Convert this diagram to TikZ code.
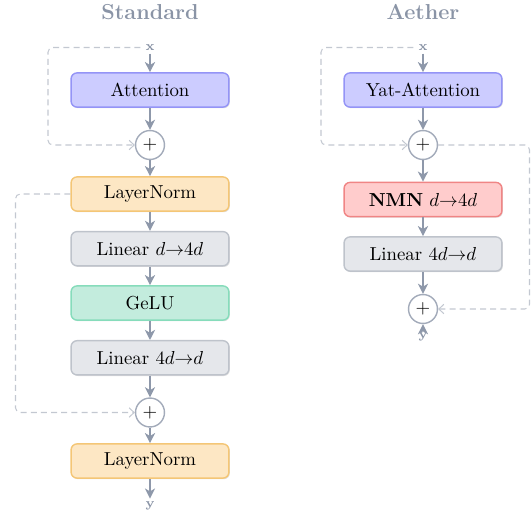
\documentclass[tikz,border=0pt]{standalone}
\usetikzlibrary{arrows.meta,shadows}
\definecolor{attfill}{HTML}{CCCCFF}
\definecolor{attdraw}{HTML}{9494F6}
\definecolor{lnfill}{HTML}{FDE7C4}
\definecolor{lndraw}{HTML}{F4C676}
\definecolor{linfill}{HTML}{E5E7EB}
\definecolor{lindraw}{HTML}{BEC3CB}
\definecolor{gelufill}{HTML}{C3ECDD}
\definecolor{geludraw}{HTML}{86DCBB}
\definecolor{nmnfill}{HTML}{FFCCCC}
\definecolor{nmndraw}{HTML}{F08585}
\definecolor{arrcol}{HTML}{8E98AA}
\definecolor{skipcol}{HTML}{C3C8D1}
\definecolor{titlecol}{HTML}{8A94A6}
\definecolor{pluscol}{HTML}{A3ABBA}
\begin{document}
\begin{tikzpicture}[x=0.532pt,y=-0.532pt,
  blk/.style={rounded corners=3.2pt, minimum width=84pt, minimum height=18.2pt,
    line width=0.75pt, inner sep=0pt, font=\normalsize,
    drop shadow={shadow xshift=0.5pt, shadow yshift=-0.6pt, opacity=0.12, fill=black}},
  attn/.style={blk, fill=attfill, draw=attdraw},
  lnorm/.style={blk, fill=lnfill, draw=lndraw},
  linb/.style={blk, fill=linfill, draw=lindraw},
  gelub/.style={blk, fill=gelufill, draw=geludraw},
  nmnb/.style={blk, fill=nmnfill, draw=nmndraw},
  plusn/.style={circle, draw=pluscol, fill=white, line width=0.75pt,
    minimum size=15.4pt, inner sep=0pt},
  io/.style={font=\scriptsize\bfseries, text=titlecol, inner xsep=2.5pt, inner ysep=1.5pt},
  ttl/.style={font=\fontsize{11.5}{14}\selectfont\bfseries, text=titlecol},
  arr/.style={draw=arrcol, line width=0.8pt, -{Stealth[length=5.4pt,width=5.4pt,inset=1.6pt]}},
  skip/.style={draw=skipcol, line width=0.55pt, dash pattern=on 3.2pt off 2.2pt,
    rounded corners=2.5pt, -{Straight Barb[length=2.6pt,width=5pt]}}
]
\useasboundingbox (0,0) rectangle (531,522);

% ---------- Standard ----------
\node[ttl] (t1) at (150,12) {Standard};
\node[io] (x1) at (150,47.5) {x};
\node[attn] (att1) at (150,90) {Attention};
\node[plusn] (p1) at (150,145) {$+$};
\node[lnorm] (ln1) at (150,194) {LayerNorm};
\node[linb] (lin1) at (150,248.7) {Linear $d{\to}4d$};
\node[gelub] (gelu) at (150,303) {GeLU};
\node[linb] (lin2) at (150,357.8) {Linear $4d{\to}d$};
\node[plusn] (p2) at (150,412.5) {$+$};
\node[lnorm] (ln2) at (150,461) {LayerNorm};
\node[io] (y1) at (150,506) {y};

\coordinate (railA) at (48,0);
\coordinate (railB) at (15.5,0);

\draw[arr] (x1) -- (att1);
\draw[arr] (att1) -- (p1);
\draw[arr] (p1) -- (ln1);
\draw[arr] (ln1) -- (lin1);
\draw[arr] (lin1) -- (gelu);
\draw[arr] (gelu) -- (lin2);
\draw[arr] (lin2) -- (p2);
\draw[arr] (p2) -- (ln2);
\draw[arr] (ln2) -- (y1);

\draw[skip] (x1.west) -| (railA |- p1.west) -- (p1.west);
\draw[skip] (ln1.west) -| (railB |- p2.west) -- (p2.west);

% ---------- Aether ----------
\node[ttl] (t2) at (423,12) {Aether};
\node[io] (x2) at (423,47.5) {x};
\node[attn] (att2) at (423,90) {Yat-Attention};
\node[plusn] (q1) at (423,145) {$+$};
\node[nmnb] (nmn) at (423,199.5) {\textbf{NMN} $d{\to}4d$};
\node[linb] (lin3) at (423,254) {Linear $4d{\to}d$};
\node[plusn] (q2) at (423,309) {$+$};
\node[io] (y2) at (423,337) {y};

\coordinate (railC) at (321,0);
\coordinate (railD) at (529.5,0);

\draw[arr] (x2) -- (att2);
\draw[arr] (att2) -- (q1);
\draw[arr] (q1) -- (nmn);
\draw[arr] (nmn) -- (lin3);
\draw[arr] (lin3) -- (q2);
\draw[arr] (y2.north) -- (q2.south);

\draw[skip] (x2.west) -| (railC |- q1.west) -- (q1.west);
\draw[skip] (q1.east) -| (railD |- q2.east) -- (q2.east);
\end{tikzpicture}
\end{document}
